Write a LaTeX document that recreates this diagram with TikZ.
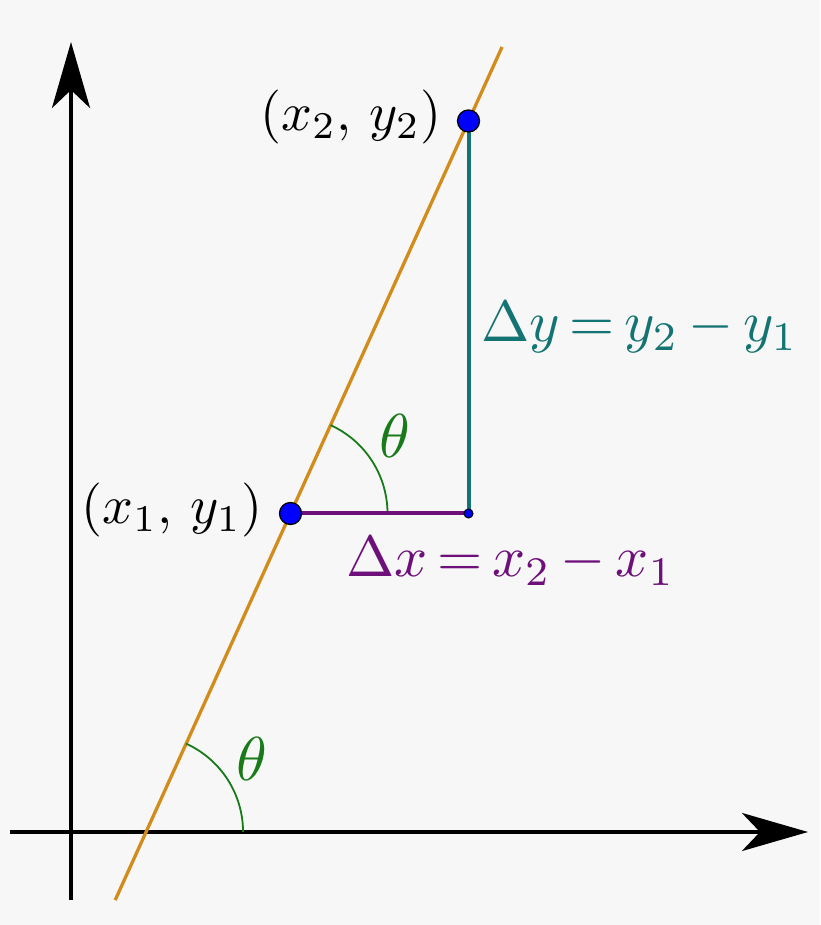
\documentclass[tikz,border=0pt]{standalone}
\usetikzlibrary{arrows.meta,calc}
\definecolor{bg}{RGB}{247,247,247}
\definecolor{lineorange}{RGB}{210,140,28}
\definecolor{dxpurple}{RGB}{110,16,122}
\definecolor{dyteal}{RGB}{20,115,115}
\definecolor{anglegreen}{RGB}{24,122,24}
\definecolor{ptblue}{RGB}{0,0,255}
\begin{document}
\begin{tikzpicture}[x=1pt,y=1pt,
  axisline/.style={line width=3.8pt,black,-{Stealth[length=66pt,width=38pt,inset=18pt]}},
  slopeline/.style={line width=3.3pt,lineorange},
  dxline/.style={line width=4pt,dxpurple},
  dyline/.style={line width=4pt,dyteal},
  anglearc/.style={line width=1.8pt,anglegreen},
  bigdot/.style={circle,fill=ptblue,draw=black,line width=1.3pt,minimum size=22pt,inner sep=0pt},
  smalldot/.style={circle,fill=ptblue,draw=black,line width=1pt,minimum size=9pt,inner sep=0pt},
  ptlabel/.style={inner sep=0pt,scale=5.4},
  dlabel/.style={inner sep=0pt,scale=5.8},
  thlabel/.style={inner sep=0pt,scale=6.2,text=anglegreen}]
\fill[bg] (0,0) rectangle (820,925);
\useasboundingbox (0,0) rectangle (820,925);
% coordinates
\coordinate (P1) at (290.5,411.5);
\coordinate (P2) at (468.5,804);
\coordinate (C) at (468.5,411.5);
\coordinate (yb) at (71,25);
\coordinate (yt) at (71,883);
\coordinate (xl) at (10,93);
\coordinate (xr) at (808,93);
\coordinate (Lb) at ($(P1)!-0.985!(P2)$);
\coordinate (Lt) at ($(P1)!1.1885!(P2)$);
\coordinate (X0) at ($(P1)!-0.8115!(P2)$);
% axes
\draw[axisline] (yb) -- (yt);
\draw[axisline] (xl) -- (xr);
% slope line
\draw[slopeline] (Lb) -- (Lt);
% angle arcs
\draw[anglearc] ($(X0)+(97,0)$) arc[start angle=0,end angle=65.6,radius=97];
\draw[anglearc] ($(P1)+(97,0)$) arc[start angle=0,end angle=65.6,radius=97];
% legs
\draw[dxline] (P1) -- (C);
\draw[dyline] (P2) -- (C);
% points
\node[smalldot] (c) at (C) {};
\node[bigdot] (p1) at (P1) {};
\node[bigdot] (p2) at (P2) {};
% labels
\node[ptlabel] (l2) at (351,808) {$(x_2,\,y_2)$};
\node[ptlabel] (l1) at (172,415) {$(x_1,\,y_1)$};
\node[dlabel,anchor=base west,text=dyteal] (ldy) at (480,583) {$\Delta y\mskip3mu{=}\mskip3mu y_2\mskip3mu{-}\mskip3mu y_1$};
\node[dlabel,anchor=base west,text=dxpurple] (ldx) at (345,348) {$\Delta x\mskip3mu{=}\mskip3mu x_2\mskip3mu{-}\mskip3mu x_1$};
\node[thlabel,anchor=base] (th1) at (395,467) {$\theta$};
\node[thlabel,anchor=base] (th2) at (252,144) {$\theta$};
\end{tikzpicture}
\end{document}
